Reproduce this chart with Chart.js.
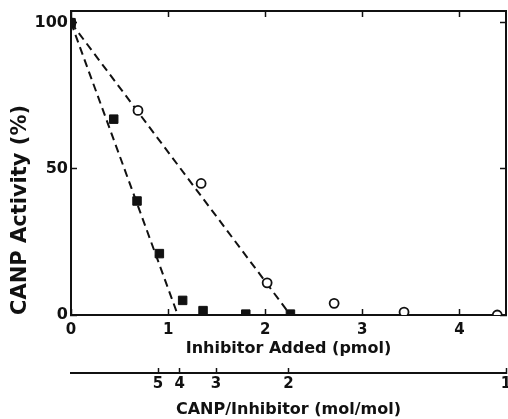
<!DOCTYPE html>
<html>
<head>
<meta charset="utf-8">
<script src="https://cdn.jsdelivr.net/npm/chart.js@4.4.1/dist/chart.umd.min.js"></script>
<style>
    body { margin: 0; background: #fff; }
    canvas { display: block; }
</style>
</head>
<body>
<canvas id="chart" width="508" height="419"></canvas>
<script>
// filled squares
const squareX = [0, 0.44, 0.68, 0.91, 1.15, 1.36, 1.80, 2.26];
const squareY = [100, 67, 39, 21, 5, 1.5, 0.3, 0.3];
// open circles
const circleX = [0, 0.69, 1.34, 2.02, 2.71, 3.43, 4.39];
const circleY = [100, 70, 45, 11, 4, 1, 0];
// dashed fit lines
const squareFitX = [0, 1.10];
const squareFitY = [100, 0];
const circleFitX = [0, 2.26];
const circleFitY = [100, 0];
// second axis: CANP/inhibitor ratio, CANP amount in pmol
const canpPmol = 4.48;
const ratioTicks = [5, 4, 3, 2, 1];

const pts = (xs, ys) => xs.map((x, i) => ({x: x, y: ys[i]}));
const ink = '#111';

// fixed box sizes so the plot lands where the figure has it
const sized = (w, h) => function (s) {
    if (w !== null) s.width = w;
    if (h !== null) s.height = h;
    s.paddingLeft = 0; s.paddingRight = 0;
    s.paddingTop = 0; s.paddingBottom = 0;
};

const inward = {drawOnChartArea: false, tickLength: -6, tickWidth: 1.5, tickColor: ink};
const frame = {display: true, color: ink, width: 2};

Chart.defaults.font.family = '"DejaVu Sans", sans-serif';
Chart.defaults.font.weight = 'bold';
Chart.defaults.color = ink;

new Chart(document.getElementById('chart'), {
    type: 'scatter',
    data: {
        datasets: [{
            data: pts(squareX, squareY),
            pointStyle: 'rect',
            pointRadius: 6,
            backgroundColor: ink,
            borderColor: ink,
            borderWidth: 1,
        }, {
            data: pts(circleX, circleY),
            pointStyle: 'circle',
            pointRadius: 4.5,
            backgroundColor: '#fff',
            borderColor: ink,
            borderWidth: 1.8,
        }, {
            data: pts(squareFitX, squareFitY),
            showLine: true,
            pointRadius: 0,
            borderColor: ink,
            borderWidth: 2,
            borderDash: [8, 5],
        }, {
            data: pts(circleFitX, circleFitY),
            showLine: true,
            pointRadius: 0,
            borderColor: ink,
            borderWidth: 2,
            borderDash: [8, 5],
        }]
    },
    options: {
        responsive: false,
        animation: false,
        layout: {padding: 0, autoPadding: false},
        plugins: {
            legend: {display: false},
            tooltip: {enabled: false}
        },
        scales: {
            x: {
                type: 'linear',
                position: 'bottom',
                min: 0,
                max: canpPmol,
                grid: inward,
                border: frame,
                ticks: {stepSize: 1, includeBounds: false, padding: 12, font: {size: 15}},
                title: {display: true, text: 'Inhibitor Added (pmol)', font: {size: 16, weight: 'bold'}, padding: {top: 0, bottom: 15}},
                afterFit: sized(null, 58)
            },
            ratio: {
                type: 'linear',
                position: 'bottom',
                min: 0,
                max: canpPmol,
                grid: {drawOnChartArea: false, tickLength: -5, tickWidth: 1.5, tickColor: ink},
                border: frame,
                afterBuildTicks: s => {
                    s.ticks = ratioTicks.map(r => ({value: canpPmol / r}));
                },
                ticks: {
                    padding: 7,
                    font: {size: 15},
                    callback: (v, i) => String(ratioTicks[i])
                },
                title: {display: true, text: 'CANP/Inhibitor (mol/mol)', font: {size: 16, weight: 'bold'}, padding: {top: 0, bottom: 0}},
                afterFit: sized(null, 46)
            },
            xTop: {
                type: 'linear',
                position: 'top',
                min: 0,
                max: canpPmol,
                grid: inward,
                border: frame,
                ticks: {display: false, stepSize: 1, includeBounds: false},
                afterFit: sized(null, 11)
            },
            y: {
                type: 'linear',
                position: 'left',
                min: 0,
                max: 104,
                grid: inward,
                border: frame,
                ticks: {stepSize: 50, includeBounds: false, padding: 9, font: {size: 16}},
                title: {display: true, text: 'CANP Activity (%)', align: 'start', font: {size: 21, weight: 'bold'}, padding: {top: 8, bottom: 0}},
                afterFit: sized(71, null)
            },
            yRight: {
                type: 'linear',
                position: 'right',
                min: 0,
                max: 104,
                grid: inward,
                border: frame,
                ticks: {display: false, stepSize: 50, includeBounds: false},
                afterFit: sized(2, null)
            }
        }
    }
});
</script>
</body>
</html>
